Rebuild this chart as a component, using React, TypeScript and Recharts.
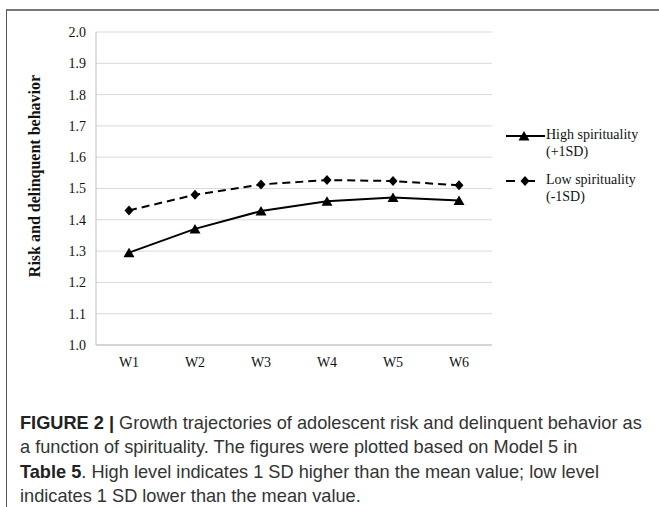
import React from 'react';
import { LineChart, Line, XAxis, YAxis, CartesianGrid } from 'recharts';

const categories = ['W1', 'W2', 'W3', 'W4', 'W5', 'W6'];
const highSpirituality = [1.295, 1.371, 1.428, 1.459, 1.471, 1.462];
const lowSpirituality = [1.43, 1.48, 1.513, 1.527, 1.524, 1.51];
const yTicks = [1.0, 1.1, 1.2, 1.3, 1.4, 1.5, 1.6, 1.7, 1.8, 1.9, 2.0];

const highLabel = ['High spirituality', '(+1SD)'];
const lowLabel = ['Low spirituality', '(-1SD)'];
const yAxisTitle = 'Risk and delinquent behavior';

const data = categories.map((c, i) => ({
  wave: c,
  high: highSpirituality[i],
  low: lowSpirituality[i],
}));

const SERIF = '"Liberation Serif", "Times New Roman", serif';
const SANS = '"Liberation Sans", Arial, Helvetica, sans-serif';

const TriangleDot = (props: any) => {
  const { cx, cy, index } = props;
  if (cx == null || cy == null) return null;
  return (
    <path
      key={`t-${index}`}
      d={`M${cx},${cy - 5}L${cx + 5.5},${cy + 4.5}L${cx - 5.5},${cy + 4.5}Z`}
      fill="#000"
    />
  );
};

const DiamondDot = (props: any) => {
  const { cx, cy, index } = props;
  if (cx == null || cy == null) return null;
  return (
    <path
      key={`d-${index}`}
      d={`M${cx},${cy - 5}L${cx + 4.5},${cy}L${cx},${cy + 5}L${cx - 4.5},${cy}Z`}
      fill="#000"
    />
  );
};

const legendText: React.CSSProperties = {
  fontFamily: SERIF,
  fontSize: 14,
  color: '#111',
  lineHeight: '16.5px',
  whiteSpace: 'nowrap',
};

export default function App() {
  return (
    <div style={{ position: 'absolute', left: 0, top: 0, width: 659, height: 507, background: '#fff', overflow: 'hidden' }}>
      {/* frame */}
      <div
        style={{
          position: 'absolute',
          left: 6,
          top: 9,
          width: 660,
          height: 510,
          borderTop: '2px solid #777',
          borderLeft: '1.5px solid #555',
          boxSizing: 'border-box',
        }}
      />
      <div style={{ position: 'absolute', left: 0, top: 0 }}>
        <LineChart
          width={659}
          height={400}
          data={data}
          margin={{ top: 32, right: 167, left: 36, bottom: 25 }}
        >
          <CartesianGrid vertical={false} stroke="#d9d9d9" strokeWidth={1} />
          <XAxis
            dataKey="wave"
            tickLine={false}
            axisLine={{ stroke: '#bfbfbf' }}
            tickMargin={6}
            height={30}
            padding={{ left: 33, right: 33 }}
            interval={0}
            tick={{ fontFamily: SERIF, fontSize: 14, fill: '#111' }}
          />
          <YAxis
            domain={[1, 2]}
            ticks={yTicks}
            tickFormatter={(v: number) => v.toFixed(1)}
            tickLine={false}
            axisLine={{ stroke: '#bfbfbf' }}
            tickMargin={4}
            width={60}
            interval={0}
            tick={{ fontFamily: SERIF, fontSize: 14, fill: '#111' }}
          />
          <Line
            type="linear"
            dataKey="high"
            stroke="#000"
            strokeWidth={2}
            dot={TriangleDot}
            activeDot={false}
            isAnimationActive={false}
          />
          <Line
            type="linear"
            dataKey="low"
            stroke="#000"
            strokeWidth={2}
            strokeDasharray="8 5"
            dot={DiamondDot}
            activeDot={false}
            isAnimationActive={false}
          />
        </LineChart>
      </div>

      {/* y axis title */}
      <div
        style={{
          position: 'absolute',
          left: 35,
          top: 176,
          transform: 'translate(-50%, -50%) rotate(-90deg)',
          fontFamily: SERIF,
          fontWeight: 'bold',
          fontSize: 16,
          color: '#111',
          whiteSpace: 'nowrap',
        }}
      >
        {yAxisTitle}
      </div>

      {/* legend */}
      <div style={{ position: 'absolute', left: 505, top: 127 }}>
        <div style={{ display: 'flex', alignItems: 'flex-start' }}>
          <svg width={41} height={17} style={{ display: 'block' }}>
            <line x1={1} y1={9} x2={40} y2={9} stroke="#000" strokeWidth={2} />
            <path d="M19,4L24.5,13.5L13.5,13.5Z" fill="#000" />
          </svg>
          <div style={legendText}>
            <div>{highLabel[0]}</div>
            <div>{highLabel[1]}</div>
          </div>
        </div>
        <div style={{ display: 'flex', alignItems: 'flex-start', marginTop: 12 }}>
          <svg width={41} height={17} style={{ display: 'block' }}>
            <line x1={1} y1={9} x2={40} y2={9} stroke="#000" strokeWidth={2} strokeDasharray="9 11" />
            <path d="M20,4L24.5,9L20,14L15.5,9Z" fill="#000" />
          </svg>
          <div style={legendText}>
            <div>{lowLabel[0]}</div>
            <div>{lowLabel[1]}</div>
          </div>
        </div>
      </div>

      {/* caption */}
      <div
        style={{
          position: 'absolute',
          left: 20,
          top: 411,
          fontFamily: SANS,
          fontSize: 18.2,
          lineHeight: '24.4px',
          color: '#333',
          whiteSpace: 'nowrap',
        }}
      >
        <div>
          <b style={{ color: '#222' }}>FIGURE 2 |</b> Growth trajectories of adolescent risk and delinquent behavior as
        </div>
        <div>a function of spirituality. The figures were plotted based on Model 5 in</div>
        <div>
          <b style={{ color: '#222' }}>Table 5</b>. High level indicates 1 SD higher than the mean value; low level
        </div>
        <div>indicates 1 SD lower than the mean value.</div>
      </div>
    </div>
  );
}
